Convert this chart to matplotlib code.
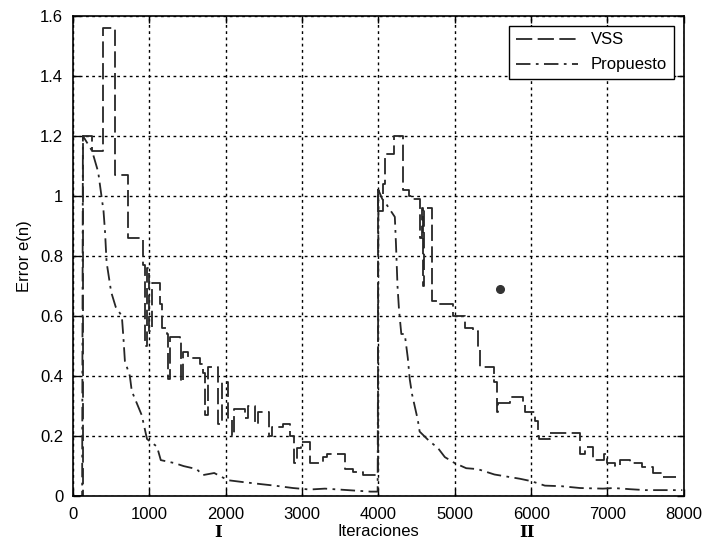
import matplotlib
matplotlib.use("Agg")
import matplotlib.pyplot as plt
from matplotlib.transforms import blended_transform_factory

plt.rcParams['font.family'] = ['Liberation Sans', 'DejaVu Sans']

# VSS error (piecewise constant, drawn as steps)
vss_x = [0, 130, 250, 390, 550, 715, 920, 945, 975, 1000, 1040, 1140, 1165,
         1230, 1250, 1270, 1400, 1420, 1440, 1500, 1660, 1700, 1730, 1770,
         1900, 1950, 2030, 2080, 2110, 2250, 2290, 2390, 2420, 2570, 2600,
         2750, 2840, 2900, 2940, 2980, 3110, 3270, 3330, 3560, 3670, 3800,
         3990, 4000, 4060, 4085, 4200, 4320, 4400, 4450, 4540, 4570, 4580,
         4600, 4700, 4800, 4975, 5130, 5240, 5310, 5330, 5520, 5550, 5570,
         5720, 5900, 5920, 6050, 6090, 6100, 6250, 6640, 6700, 6810, 6960,
         7000, 7100, 7160, 7290, 7450, 7600, 7720, 7900]
vss_y = [0.0, 1.2, 1.15, 1.56, 1.07, 0.86, 0.77, 0.5, 0.76, 0.55, 0.71, 0.64, 0.56,
         0.54, 0.39, 0.53, 0.52, 0.38, 0.48, 0.46, 0.44, 0.41, 0.27, 0.43,
         0.24, 0.38, 0.26, 0.2, 0.29, 0.26, 0.3, 0.24, 0.28, 0.2, 0.23,
         0.24, 0.2, 0.11, 0.16, 0.18, 0.11, 0.13, 0.14, 0.09, 0.08, 0.07,
         1.02, 0.95, 1.04, 1.14, 1.2, 1.02, 1.0, 0.99, 0.86, 0.96, 0.7,
         0.96, 0.65, 0.64, 0.6, 0.56, 0.55, 0.49, 0.43, 0.38, 0.28, 0.31,
         0.33, 0.31, 0.28, 0.25, 0.2, 0.19, 0.21, 0.14, 0.165, 0.12, 0.14,
         0.11, 0.1, 0.12, 0.11, 0.097, 0.077, 0.065, 0.065]

# Propuesto error
prop_x = [0, 120, 130, 250, 330, 400, 420, 440, 500, 560, 640, 660, 680, 745,
          770, 835, 900, 970, 1100, 1150, 1330, 1450, 1620, 1700, 1850, 2030,
          2220, 2460, 2640, 2880, 3100, 3300, 3600, 3900, 3990, 4000, 4050,
          4110, 4215, 4230, 4250, 4270, 4300, 4345, 4385, 4410, 4440, 4475,
          4515, 4540, 4660, 4780, 4870, 5000, 5150, 5300, 5520, 5850, 6000,
          6180, 6400, 6640, 6940, 7080, 7300, 7500, 7980]
prop_y = [0.0, 0.0, 1.2, 1.15, 1.08, 0.95, 0.88, 0.78, 0.68, 0.63, 0.6, 0.53, 0.45, 0.4,
          0.35, 0.31, 0.27, 0.19, 0.165, 0.12, 0.11, 0.1, 0.09, 0.07, 0.077, 0.053,
          0.047, 0.04, 0.035, 0.027, 0.022, 0.025, 0.02, 0.015, 0.015, 1.02, 0.99,
          0.97, 0.93, 0.84, 0.7, 0.62, 0.54, 0.54, 0.46, 0.39, 0.34, 0.3,
          0.255, 0.215, 0.185, 0.16, 0.13, 0.11, 0.093, 0.09, 0.072, 0.058, 0.05,
          0.035, 0.033, 0.027, 0.025, 0.027, 0.023, 0.02, 0.02]

# isolated marker and section labels
dot_x, dot_y = 5590, 0.69
sections = ["I", "II"]
section_x = [1900, 5940]

xticks = [0, 1000, 2000, 3000, 4000, 5000, 6000, 7000, 8000]
yticks = [0, 0.2, 0.4, 0.6, 0.8, 1.0, 1.2, 1.4, 1.6]
ytick_labels = ["0", "0.2", "0.4", "0.6", "0.8", "1", "1.2", "1.4", "1.6"]

fig = plt.figure(figsize=(7.05, 5.44), dpi=100)
ax = fig.add_axes([0.1035, 0.088, 0.8665, 0.883])

line_col = '#262626'
ax.plot(vss_x, vss_y, drawstyle='steps-post', color=line_col, linewidth=1.3,
        dashes=(9, 3), label='VSS')
ax.plot(prop_x, prop_y, color=line_col, linewidth=1.3,
        dashes=(8, 3, 1.5, 3), label='Propuesto')
ax.plot([dot_x], [dot_y], 'o', color='#333333', markersize=5.5)

ax.set_xlim(0, 8000)
ax.set_ylim(0, 1.6)
ax.set_xticks(xticks)
ax.set_yticks(yticks)
ax.set_yticklabels(ytick_labels)
ax.tick_params(direction='in', top=True, right=True, labelsize=12,
               length=5, width=1, colors='black')
ax.tick_params(axis='x', pad=8)
ax.tick_params(axis='y', pad=7)
ax.grid(True, color='black', linestyle=(0, (2, 2.5)), linewidth=1.0)
for sp in ax.spines.values():
    sp.set_linewidth(1.2)

ax.set_xlabel('Iteraciones', fontsize=12, labelpad=1)
ax.set_ylabel('Error e(n)', fontsize=12, labelpad=6)

trans = blended_transform_factory(ax.transData, ax.transAxes)
for s, sx in zip(sections, section_x):
    ax.text(sx, -0.058, s, transform=trans, ha='center', va='top',
            fontsize=12, fontweight='bold', family='DejaVu Serif')

leg = ax.legend(loc='upper right', fontsize=12, handlelength=3.7,
                fancybox=False, framealpha=1, edgecolor='black',
                borderaxespad=0.6, labelspacing=0.6)
leg.get_frame().set_linewidth(1.0)

fig.savefig('out.png', dpi=100)
